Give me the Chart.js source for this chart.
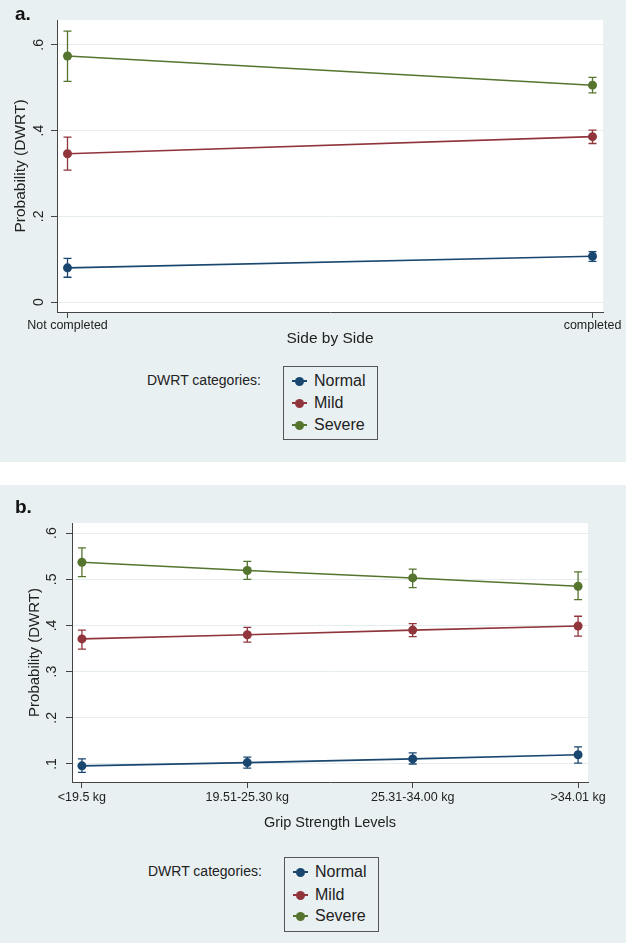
<!DOCTYPE html>
<html>
<head>
<meta charset="utf-8">
<script src="https://cdn.jsdelivr.net/npm/chart.js@4.4.1/dist/chart.umd.min.js"></script>
<style>
  body { margin: 0; width: 626px; height: 943px; background: #fff; position: relative; overflow: hidden;
         font-family: "Liberation Sans", Arial, sans-serif; }
  .panel { position: absolute; left: 0; width: 626px; background: #e9f0f2; }
  #pa { top: 0; height: 462px; }
  #pb { top: 485px; height: 458px; }
  .panel canvas { position: absolute; left: 0; top: 0; }
  .tag { position: absolute; left: 15px; font-weight: bold; font-size: 19px; color: #111; }
  .legtitle { position: absolute; font-size: 14px; color: #222; white-space: nowrap; }
  .legbox { position: absolute; border: 1px solid #555; box-sizing: border-box; }
  .row { position: absolute; left: 0; height: 20px; display: flex; align-items: center; font-size: 16px; color: #222; }
  .mk { position: relative; width: 15px; height: 20px; margin-left: 8px; margin-right: 7px; }
  .mk i { position: absolute; left: 0; top: 9px; width: 15px; height: 2px; }
  .mk b { position: absolute; left: 3px; top: 5.5px; width: 9px; height: 9px; border-radius: 50%; }
</style>
</head>
<body>
<div class="panel" id="pa">
  <canvas id="chartA" width="626" height="360"></canvas>
  <div class="tag" style="top:3px">a.</div>
  <div class="legtitle" style="left:147px;top:372px">DWRT categories:</div>
  <div class="legbox" id="legA" style="left:283px;top:366px;width:95px;height:74px"></div>
</div>
<div class="panel" id="pb">
  <canvas id="chartB" width="626" height="360"></canvas>
  <div class="tag" style="top:11px">b.</div>
  <div class="legtitle" style="left:148px;top:378px">DWRT categories:</div>
  <div class="legbox" id="legB" style="left:284px;top:372px;width:95px;height:75px"></div>
</div>
<script>
// series names / colours
const groups = ["Normal", "Mild", "Severe"];
const groupColors = ["#1a476f", "#90353b", "#55752f"];

// panel a: Side by Side
const sbsLabels = ["Not completed", "completed"];
const sbsNormal   = [0.080, 0.107];
const sbsNormalLo = [0.058, 0.095];
const sbsNormalHi = [0.102, 0.118];
const sbsMild     = [0.346, 0.386];
const sbsMildLo   = [0.308, 0.370];
const sbsMildHi   = [0.385, 0.401];
const sbsSevere   = [0.574, 0.506];
const sbsSevereLo = [0.515, 0.488];
const sbsSevereHi = [0.632, 0.524];
const sbsTicks = [0, 0.2, 0.4, 0.6];

// panel b: grip strength
const gripLabels = ["<19.5 kg", "19.51-25.30 kg", "25.31-34.00 kg", ">34.01 kg"];
const gripNormal   = [0.096, 0.103, 0.111, 0.120];
const gripNormalLo = [0.082, 0.091, 0.100, 0.102];
const gripNormalHi = [0.111, 0.115, 0.124, 0.137];
const gripMild     = [0.371, 0.380, 0.390, 0.399];
const gripMildLo   = [0.349, 0.364, 0.376, 0.377];
const gripMildHi   = [0.390, 0.396, 0.404, 0.420];
const gripSevere   = [0.537, 0.519, 0.503, 0.485];
const gripSevereLo = [0.506, 0.500, 0.482, 0.456];
const gripSevereHi = [0.568, 0.539, 0.522, 0.516];
const gripTicks = [0.1, 0.2, 0.3, 0.4, 0.5, 0.6];

const FONT = '"Liberation Sans", Arial, sans-serif';

// white plot region + error bars + rotated y tick labels (stata look)
const stataPlugin = {
  id: "stata",
  beforeDraw(chart) {
    const a = chart.chartArea, ctx = chart.ctx;
    ctx.save();
    ctx.fillStyle = "#fff";
    ctx.fillRect(a.left, a.top, a.right - a.left, a.bottom - a.top);
    ctx.restore();
  },
  beforeDatasetsDraw(chart) {
    const ctx = chart.ctx, xs = chart.scales.x, ys = chart.scales.y;
    ctx.save();
    chart.data.datasets.forEach(ds => {
      ctx.strokeStyle = ds.borderColor;
      ctx.lineWidth = 1.3;
      ds.data.forEach((p, i) => {
        const x = xs.getPixelForValue(p.x);
        const y1 = ys.getPixelForValue(ds.lo[i]), y2 = ys.getPixelForValue(ds.hi[i]);
        ctx.beginPath();
        ctx.moveTo(x, y1); ctx.lineTo(x, y2);
        ctx.moveTo(x - 4, y1); ctx.lineTo(x + 4, y1);
        ctx.moveTo(x - 4, y2); ctx.lineTo(x + 4, y2);
        ctx.stroke();
      });
    });
    ctx.restore();
  },
  afterDraw(chart) {
    const ys = chart.scales.y, ctx = chart.ctx, o = chart.options.plugins.stata;
    ctx.save();
    ctx.fillStyle = "#222";
    ctx.font = o.tickSize + "px " + FONT;
    ctx.textAlign = "center";
    ctx.textBaseline = "middle";
    ys.ticks.forEach(t => {
      const txt = t.value === 0 ? "0" : t.value.toFixed(1).replace(/^0/, "");
      ctx.save();
      ctx.translate(o.tickX, ys.getPixelForValue(t.value));
      ctx.rotate(-Math.PI / 2);
      ctx.fillText(txt, 0, 0);
      ctx.restore();
    });
    ctx.restore();
  }
};

function makeChart(id, p) {
  const datasets = p.series.map((s, k) => ({
    label: groups[k],
    data: s.vals.map((v, i) => ({ x: i, y: v })),
    lo: s.lo, hi: s.hi,
    borderColor: groupColors[k],
    backgroundColor: groupColors[k],
    borderWidth: 1.6,
    pointRadius: 4.5,
    pointBorderWidth: 0,
    pointHoverRadius: 4.5
  }));
  return new Chart(document.getElementById(id), {
    type: "line",
    data: { datasets },
    plugins: [stataPlugin],
    options: {
      responsive: false,
      animation: false,
      layout: { padding: p.pad },
      plugins: {
        legend: { display: false },
        tooltip: { enabled: false },
        stata: { tickX: p.tickX, tickSize: p.yTickSize }
      },
      scales: {
        x: {
          type: "linear",
          min: -p.xPad, max: p.labels.length - 1 + p.xPad,
          afterBuildTicks: s => { s.ticks = p.labels.map((_, i) => ({ value: i })); },
          afterFit: s => { s.height = p.bottomH; },
          ticks: {
            autoSkip: false, maxRotation: 0, padding: p.xTickPad,
            callback: v => p.labels[Math.round(v)],
            font: { family: FONT, size: p.tickSize }, color: "#222"
          },
          grid: { drawOnChartArea: false, tickLength: 6, tickColor: "#444" },
          border: { color: "#444", width: 1 },
          title: {
            display: true, text: p.xTitle, color: "#222",
            font: { family: FONT, size: p.xTitleSize }, padding: { bottom: p.xTitlePad }
          }
        },
        y: {
          type: "linear",
          min: p.yMin, max: p.yMax,
          afterBuildTicks: s => { s.ticks = p.yTicks.map(v => ({ value: v })); },
          afterFit: s => { s.width = p.leftW; },
          ticks: { display: false },
          grid: { color: "#e6edef", tickLength: 6, tickColor: "#444" },
          border: { color: "#444", width: 1 },
          title: {
            display: true, text: "Probability (DWRT)", color: "#222",
            font: { family: FONT, size: p.yTitleSize }, padding: { top: p.yTitlePad }
          }
        }
      }
    }
  });
}

makeChart("chartA", {
  labels: sbsLabels,
  series: [
    { vals: sbsNormal, lo: sbsNormalLo, hi: sbsNormalHi },
    { vals: sbsMild, lo: sbsMildLo, hi: sbsMildHi },
    { vals: sbsSevere, lo: sbsSevereLo, hi: sbsSevereHi }
  ],
  yTicks: sbsTicks, yMin: -0.023, yMax: 0.658, xPad: 0.02,
  pad: { left: 0, top: 20, right: 23, bottom: 0 },
  leftW: 57, bottomH: 48, tickX: 39, tickSize: 12.5, yTickSize: 14, xTickPad: 0,
  xTitle: "Side by Side", xTitleSize: 15.5, xTitlePad: 11.5,
  yTitleSize: 15.5, yTitlePad: 11
});

makeChart("chartB", {
  labels: gripLabels,
  series: [
    { vals: gripNormal, lo: gripNormalLo, hi: gripNormalHi },
    { vals: gripMild, lo: gripMildLo, hi: gripMildHi },
    { vals: gripSevere, lo: gripSevereLo, hi: gripSevereHi }
  ],
  yTicks: gripTicks, yMin: 0.061, yMax: 0.622, xPad: 0.06,
  pad: { left: 0, top: 38, right: 38, bottom: 0 },
  leftW: 72, bottomH: 63, tickX: 52, tickSize: 12.5, yTickSize: 14, xTickPad: 2,
  xTitle: "Grip Strength Levels", xTitleSize: 14.5, xTitlePad: 13.5,
  yTitleSize: 15, yTitlePad: 26
});

// legends
function buildLegend(id, rowTops) {
  const box = document.getElementById(id);
  groups.forEach((g, k) => {
    const row = document.createElement("div");
    row.className = "row";
    row.style.top = rowTops[k] + "px";
    row.innerHTML = '<span class="mk"><i style="background:' + groupColors[k] + '"></i><b style="background:' +
      groupColors[k] + '"></b></span>' + g;
    box.appendChild(row);
  });
}
buildLegend("legA", [4, 26, 48]);
buildLegend("legB", [4, 27, 48]);
</script>
</body>
</html>
